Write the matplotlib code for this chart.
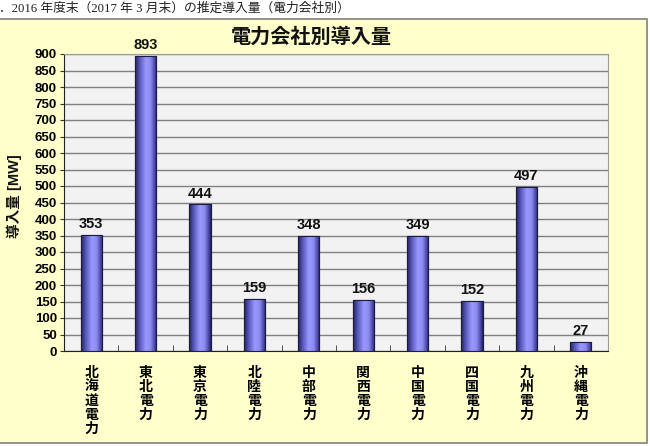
import numpy as np
import matplotlib
matplotlib.use("Agg")
import matplotlib.pyplot as plt
from matplotlib.patches import Rectangle
from matplotlib.colors import LinearSegmentedColormap

# データ
companies = ["北海道電力", "東北電力", "東京電力", "北陸電力", "中部電力",
             "関西電力", "中国電力", "四国電力", "九州電力", "沖縄電力"]
values = [353, 893, 444, 159, 348, 156, 349, 152, 497, 27]
yticks = list(range(0, 901, 50))

caption = "．2016 年度末（2017 年 3 月末）の推定導入量（電力会社別）"
title = "電力会社別導入量"
ylabel = "導入量 [MW]"

FONT = ["Liberation Sans", "Noto Sans CJK JP"]
plt.rcParams["font.family"] = FONT

fig = plt.figure(figsize=(6.5, 4.46), dpi=100)
fig.patch.set_facecolor("white")

# 背景パネル（黄色）
panel = Rectangle((-0.01, 1 - 443 / 446), 647 / 650 + 0.01, (443 - 19) / 446,
                  transform=fig.transFigure, facecolor="#ffffcc",
                  edgecolor="#808080", linewidth=1.2, zorder=-1)
fig.patches.append(panel)

fig.text(-0.002, 1 - 9 / 446, caption, fontsize=9.2, va="center", ha="left",
         family=["Liberation Serif", "Noto Sans CJK JP"], color="#222222")

ax = fig.add_axes([64 / 650, 1 - 351 / 446, (608 - 64) / 650, (351 - 54) / 446])
ax.set_zorder(2)
ax.set_facecolor("#f2f2f2")

x = np.arange(len(companies))
bars = ax.bar(x, values, width=0.39, color="#9999ff", edgecolor="#1c1c40",
              linewidth=0.8, zorder=3)

# 円柱風グラデーション
cmap = LinearSegmentedColormap.from_list(
    "cyl", [(0.0, "#22225a"), (0.2, "#5555b8"), (0.5, "#9a9aff"),
            (0.72, "#8a8af0"), (0.9, "#4a4aa8"), (1.0, "#22225a")])
grad = np.linspace(0, 1, 64).reshape(1, -1)
for b in bars:
    x0, w, h = b.get_x(), b.get_width(), b.get_height()
    im = ax.imshow(grad, cmap=cmap, extent=(x0, x0 + w, 0, h), aspect="auto",
                   origin="lower", zorder=3.5, interpolation="bicubic")
    im.set_clip_path(b)
    ax.add_patch(Rectangle((x0, 0), w, h, fill=False, edgecolor="#1c1c40",
                           linewidth=0.8, zorder=4))
    ax.text(b.get_x() + w / 2, h + 12, f"{int(h)}", ha="center", va="bottom",
            fontsize=10.5, fontweight="bold", color="#111111", zorder=5)

ax.set_xlim(-0.5, len(companies) - 0.5)
ax.set_ylim(0, 900)
ax.set_yticks(yticks)
ax.set_yticklabels([str(v) for v in yticks], fontsize=9.5, fontweight="bold")
ax.yaxis.grid(True, color="#808080", linewidth=1.0, zorder=1)
ax.set_axisbelow(True)
ax.tick_params(axis="y", direction="out", length=3, pad=2, color="#333333")

ax.set_xticks(x)
ax.set_xticklabels(["\n".join(c) for c in companies], fontsize=10,
                   fontweight="bold", linespacing=1.0, va="top")
ax.tick_params(axis="x", length=0, pad=11)
ax.set_xticks(np.arange(0.5, len(companies) - 0.5, 1), minor=True)
ax.tick_params(axis="x", which="minor", direction="in", length=4, color="#333333")

for s in ["top", "right"]:
    ax.spines[s].set_color("#9a9a9a")
for s in ["left", "bottom"]:
    ax.spines[s].set_color("#222222")

fig.text(311 / 650, 1 - 37 / 446, title, ha="center", va="center",
         fontsize=14.5, fontweight="bold", color="#111111")
fig.text(14 / 650, 1 - 196 / 446, ylabel, ha="center", va="center",
         rotation=90, fontsize=10.5, fontweight="bold", color="#111111")

fig.savefig("out.png", dpi=100, facecolor=fig.get_facecolor())
